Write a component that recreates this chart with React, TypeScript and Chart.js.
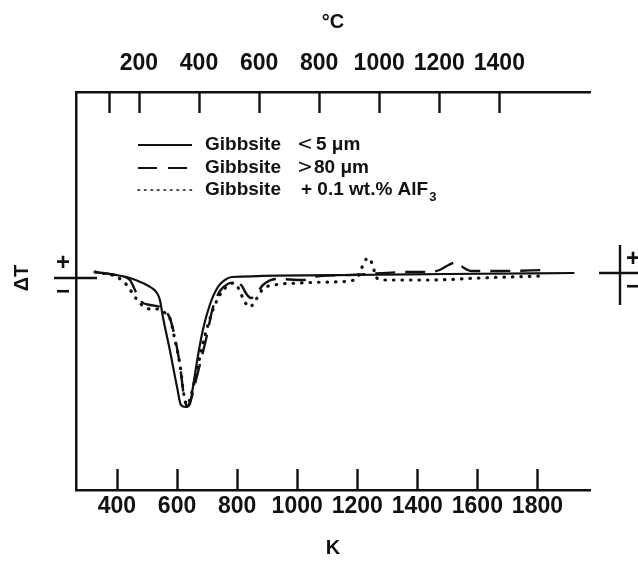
import React, { useEffect, useRef } from "react";
import { Chart, registerables } from "chart.js";

Chart.register(...registerables);

// Temperature axes
const kelvinTicks = [400, 600, 800, 1000, 1200, 1400, 1600, 1800];
const celsiusTicks = [100, 200, 400, 600, 800, 1000, 1200, 1400];
const celsiusUnlabelled = [100];
const K_MIN = 263.6;
const K_MAX = 1975;
const DT_MIN = -10.7;
const DT_MAX = 9.2;

// Gibbsite < 5 µm (solid)
const fineK = [327, 443, 493, 516, 533, 543, 553, 576, 600, 613, 629, 643, 653, 669, 686, 709, 736, 759, 782, 1175, 1500, 1923];
const fineDT = [0.2, -0.1, -0.4, -0.6, -0.85, -1.2, -2.05, -3.7, -5.55, -6.45, -6.55, -6.4, -5.55, -4.05, -2.7, -1.45, -0.55, -0.2, -0.05, 0.05, 0.1, 0.15];

// Gibbsite > 80 µm (dashed)
const coarseK = [327, 393, 443, 463, 483, 510, 543, 563, 576, 596, 610, 623, 633, 646, 663, 683, 699, 719, 743, 769, 796, 816, 829, 846, 866, 886, 932, 1019, 1075, 1175, 1374, 1441, 1474, 1504, 1531, 1551, 1581, 1674, 1830];
const coarseDT = [0.2, 0.05, -0.2, -0.8, -1.3, -1.45, -1.55, -1.8, -2.1, -3.3, -4.5, -6.0, -6.5, -6.2, -5.2, -4.0, -3.0, -1.6, -0.75, -0.4, -0.3, -0.5, -0.85, -1.1, -0.85, -0.45, -0.15, -0.2, 0.0, 0.05, 0.2, 0.2, 0.3, 0.55, 0.7, 0.45, 0.25, 0.25, 0.3];

// Gibbsite + 0.1 wt.% AlF3 (dotted)
const dopedK = [327, 400, 433, 460, 483, 510, 536, 560, 576, 593, 610, 623, 633, 646, 659, 676, 689, 706, 726, 749, 772, 789, 806, 822, 842, 862, 886, 925, 1009, 1108, 1191, 1208, 1225, 1238, 1251, 1265, 1291, 1441, 1607, 1807];
const dopedDT = [0.2, -0.05, -0.45, -1.05, -1.45, -1.65, -1.65, -1.85, -2.1, -3.2, -4.45, -5.95, -6.45, -6.0, -5.2, -4.05, -3.2, -2.3, -1.45, -0.8, -0.45, -0.35, -0.65, -1.2, -1.55, -1.2, -0.65, -0.45, -0.35, -0.3, -0.2, 0.15, 0.75, 0.9, 0.55, -0.1, -0.2, -0.2, -0.1, 0.0];

const ink = "#111";
const fontFamily = '"Liberation Sans", Arial, Helvetica, sans-serif';

const toPoints = (xs: number[], ys: number[]) => xs.map((x, i) => ({ x, y: ys[i] }));

const decor = {
  id: "dtaDecor",
  afterDraw(chart: any) {
    const { ctx, chartArea: area } = chart;
    const xs = chart.scales.x;
    const xt = chart.scales.xTop;
    const ys = chart.scales.y;
    const y0 = ys.getPixelForValue(0);

    ctx.save();
    ctx.strokeStyle = ink;
    ctx.fillStyle = ink;
    ctx.lineWidth = 2.4;
    ctx.setLineDash([]);

    // inward tick marks
    const tickLen = 21;
    kelvinTicks.forEach((k) => {
      const px = Math.round(xs.getPixelForValue(k)) + 0.5;
      ctx.beginPath();
      ctx.moveTo(px, area.bottom);
      ctx.lineTo(px, area.bottom - tickLen);
      ctx.stroke();
    });
    celsiusTicks.forEach((c) => {
      const px = Math.round(xt.getPixelForValue(c + 273.15)) + 0.5;
      ctx.beginPath();
      ctx.moveTo(px, area.top);
      ctx.lineTo(px, area.top + tickLen);
      ctx.stroke();
    });

    // ΔT sign marker on the left axis
    const yl = y0 + 2;
    ctx.beginPath();
    ctx.moveTo(area.left - 22, yl);
    ctx.lineTo(area.left + 21, yl);
    ctx.stroke();
    ctx.font = `bold 24px ${fontFamily}`;
    ctx.textAlign = "center";
    ctx.textBaseline = "middle";
    ctx.fillText("+", area.left - 13, yl - 15);
    ctx.fillText("\u2212", area.left - 13, yl + 14);

    // ΔT sign marker on the right
    const rx = 620;
    const yr = y0 - 3;
    ctx.beginPath();
    ctx.moveTo(rx, yr - 28);
    ctx.lineTo(rx, yr + 32);
    ctx.moveTo(rx - 21, yr);
    ctx.lineTo(638, yr);
    ctx.stroke();
    ctx.fillText("+", rx + 13, yr - 14);
    ctx.fillText("\u2212", rx + 13, yr + 14);

    // ΔT axis title
    ctx.save();
    ctx.translate(22, y0 + 2);
    ctx.rotate(-Math.PI / 2);
    ctx.font = `bold 20px ${fontFamily}`;
    ctx.fillText("\u0394T", 0, 0);
    ctx.restore();

    // legend
    const rows = [
      { y: 145, dash: [] as number[], width: 2.2 },
      { y: 168, dash: [19, 11], width: 2.2 },
      { y: 190, dash: [1.5, 5], width: 1.6 },
    ];
    rows.forEach((r) => {
      ctx.beginPath();
      ctx.lineWidth = r.width;
      ctx.lineCap = r.dash.length && r.dash[0] < 3 ? "round" : "butt";
      ctx.setLineDash(r.dash);
      ctx.moveTo(138, r.y);
      ctx.lineTo(192, r.y);
      ctx.stroke();
    });
    ctx.setLineDash([]);
    ctx.textAlign = "left";
    ctx.textBaseline = "middle";
    const bold = `bold 19px ${fontFamily}`;
    const light = `19px "DejaVu Sans", ${fontFamily}`;
    rows.forEach((r) => {
      ctx.font = bold;
      ctx.fillText("Gibbsite", 205, r.y);
    });
    ctx.font = light;
    ctx.fillText("<", 297, rows[0].y);
    ctx.fillText(">", 297, rows[1].y);
    ctx.font = bold;
    ctx.fillText("5 \u03bcm", 316, rows[0].y);
    ctx.fillText("80 \u03bcm", 314, rows[1].y);
    const main = "+ 0.1 wt.% AlF";
    ctx.fillText(main, 301, rows[2].y);
    const w = ctx.measureText(main).width;
    ctx.font = `bold 13px ${fontFamily}`;
    ctx.fillText("3", 301 + w + 1, rows[2].y + 7);

    ctx.restore();
  },
};

export default function App() {
  const ref = useRef<HTMLCanvasElement>(null);

  useEffect(() => {
    document.body.style.margin = "0";
    const canvas = ref.current;
    if (!canvas) return;

    const tickFont = { family: fontFamily, size: 23, weight: "bold" as const };
    const titleFont = { family: fontFamily, size: 20, weight: "bold" as const };

    const chart = new Chart(canvas, {
      type: "line",
      data: {
        datasets: [
          {
            label: "Gibbsite < 5 \u03bcm",
            data: toPoints(fineK, fineDT),
            borderColor: ink,
            borderWidth: 2.2,
            pointRadius: 0,
            fill: false,
            cubicInterpolationMode: "monotone",
          },
          {
            label: "Gibbsite > 80 \u03bcm",
            data: toPoints(coarseK, coarseDT),
            borderColor: ink,
            borderWidth: 2.4,
            borderDash: [20, 10],
            pointRadius: 0,
            fill: false,
            cubicInterpolationMode: "monotone",
          },
          {
            label: "Gibbsite + 0.1 wt.% AlF3",
            data: toPoints(dopedK, dopedDT),
            borderColor: ink,
            borderWidth: 3.2,
            borderDash: [0.5, 8],
            borderCapStyle: "round",
            pointRadius: 0,
            fill: false,
            cubicInterpolationMode: "monotone",
          },
        ],
      },
      options: {
        responsive: false,
        animation: false,
        devicePixelRatio: 1,
        layout: { padding: { left: 0, right: 48, top: 0, bottom: 0 } },
        plugins: { legend: { display: false }, tooltip: { enabled: false } },
        scales: {
          x: {
            type: "linear",
            position: "bottom",
            min: K_MIN,
            max: K_MAX,
            afterBuildTicks: (s: any) => {
              s.ticks = kelvinTicks.map((v) => ({ value: v }));
            },
            afterFit: (s: any) => {
              s.height = 76;
            },
            grid: { display: false, drawTicks: false },
            border: { display: true, color: ink, width: 2.5 },
            ticks: {
              autoSkip: false,
              maxRotation: 0,
              padding: 3,
              color: ink,
              font: tickFont,
              callback: (v: any) => String(v),
            },
            title: {
              display: true,
              text: "K",
              color: ink,
              font: titleFont,
              padding: { top: 0, bottom: 6 },
            },
          },
          xTop: {
            type: "linear",
            position: "top",
            min: K_MIN,
            max: K_MAX,
            afterBuildTicks: (s: any) => {
              s.ticks = celsiusTicks.map((c) => ({ value: c + 273.15 }));
            },
            afterFit: (s: any) => {
              s.height = 92;
            },
            grid: { display: false, drawTicks: false },
            border: { display: true, color: ink, width: 2.5 },
            ticks: {
              autoSkip: false,
              maxRotation: 0,
              padding: 15,
              color: ink,
              font: tickFont,
              callback: (v: any) => {
                const c = Math.round(Number(v) - 273.15);
                return celsiusUnlabelled.includes(c) ? "" : String(c);
              },
            },
            title: {
              display: true,
              text: "\u00b0C",
              color: ink,
              font: titleFont,
              padding: { top: 10, bottom: 0 },
            },
          },
          y: {
            type: "linear",
            position: "left",
            min: DT_MIN,
            max: DT_MAX,
            afterFit: (s: any) => {
              s.width = 76;
            },
            grid: { display: false, drawTicks: false },
            border: { display: true, color: ink, width: 2.5 },
            ticks: { display: false },
          },
        },
      },
      plugins: [decor],
    });

    return () => chart.destroy();
  }, []);

  return (
    <div style={{ width: 638, height: 566, background: "#fff" }}>
      <canvas ref={ref} width={638} height={566} style={{ display: "block", width: 638, height: 566 }} />
    </div>
  );
}
